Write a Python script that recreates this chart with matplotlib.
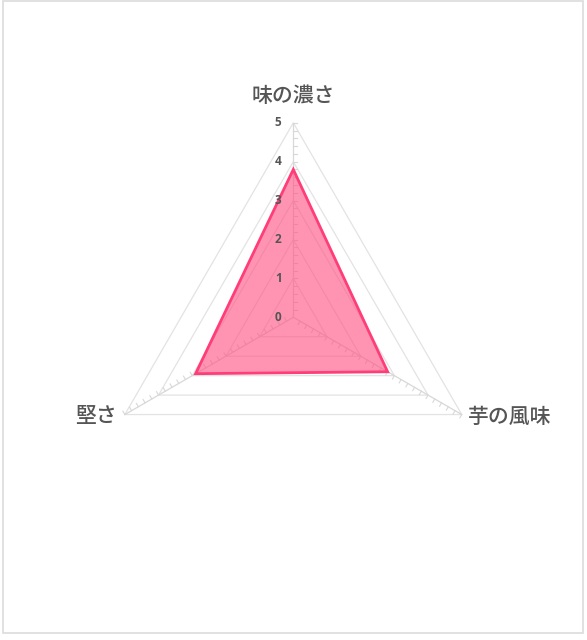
import numpy as np
import matplotlib
matplotlib.use("Agg")
import matplotlib.pyplot as plt
from matplotlib.patches import Rectangle, Polygon

plt.rcParams['font.family'] = ['Noto Sans CJK JP', 'DejaVu Sans']

categories = ["味の濃さ", "芋の風味", "堅さ"]
values = [3.8, 2.8, 2.9]
ticks = [0, 1, 2, 3, 4, 5]
rmax = 5

W, H, DPI = 587, 640, 100
fig = plt.figure(figsize=(W / DPI, H / DPI), dpi=DPI)
ax = fig.add_axes([0, 0, 1, 1])
unit = 38.9
cx, cy = 293.3, H - 317.3
ax.set_xlim(-cx / unit, (W - cx) / unit)
ax.set_ylim(-cy / unit, (H - cy) / unit)
ax.set_aspect('equal')
ax.axis('off')

angles = np.deg2rad([90, -30, 210])

def pt(r, a):
    return r * np.cos(a), r * np.sin(a)

# grid triangles
for r in ticks[1:]:
    xs, ys = zip(*[pt(r, a) for a in angles])
    ax.add_patch(Polygon(np.column_stack([xs, ys]), closed=True, fill=False,
                         edgecolor='#e3e3e3', lw=0.9, zorder=1))
# spokes and minor ticks
for a in angles:
    x1, y1 = pt(rmax, a)
    ax.plot([0, x1], [0, y1], color='#d8d8d8', lw=0.9, zorder=1)
    px, py = np.sin(a), -np.cos(a)
    for r in np.arange(0.2, rmax + 0.01, 0.2):
        bx, by = pt(r, a)
        ax.plot([bx, bx + 0.1 * px], [by, by + 0.1 * py], color='#d8d8d8', lw=0.8, zorder=1)

# data
xs, ys = zip(*[pt(v, a) for v, a in zip(values, angles)])
poly = np.column_stack([xs, ys])
ax.add_patch(Polygon(poly, closed=True, facecolor='#ff4d80', alpha=0.6,
                     edgecolor='none', zorder=2))
ax.add_patch(Polygon(poly, closed=True, fill=False, edgecolor='#ff3d78',
                     lw=2, zorder=3, joinstyle='miter'))

# tick labels
for t in ticks:
    ax.text(-0.3, t, str(t), ha='right', va='center', fontsize=8.5,
            fontweight='bold', color='#555555', family=['Open Sans', 'DejaVu Sans'], zorder=4)

# category labels
lx, ly = pt(rmax, angles[0])
ax.text(lx, ly + 0.68, categories[0], ha='center', va='center', fontsize=15,
        color='#555555', fontweight='medium')
lx, ly = pt(rmax, angles[1])
ax.text(lx + 0.15, ly - 0.05, categories[1], ha='left', va='center', fontsize=15,
        color='#555555', fontweight='medium')
lx, ly = pt(rmax, angles[2])
ax.text(lx - 0.2, ly - 0.05, categories[2], ha='right', va='center', fontsize=15,
        color='#555555', fontweight='medium')

fig.patches.append(Rectangle((3 / W, (H - 633) / H), 580 / W, 632 / H,
                             transform=fig.transFigure, fill=False,
                             edgecolor='#dcdcdc', lw=1.2))

fig.savefig('out.png', dpi=DPI)
